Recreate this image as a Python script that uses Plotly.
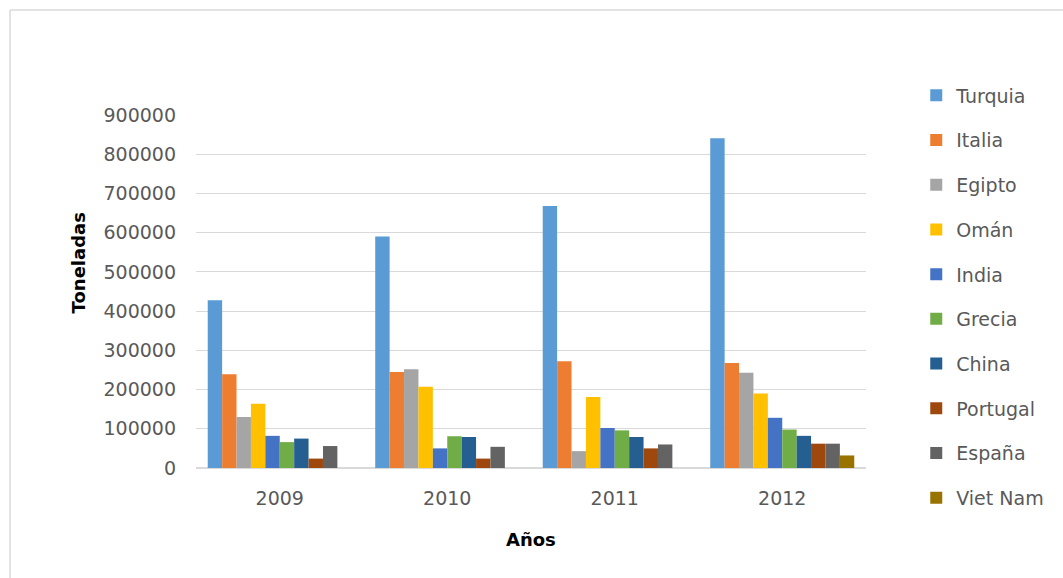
import plotly.graph_objects as go

years = ["2009", "2010", "2011", "2012"]
countries = ["Turquia", "Italia", "Egipto", "Omán", "India", "Grecia", "China", "Portugal", "España", "Viet Nam"]
turquia = [428000, 590000, 668000, 841000]
italia = [239000, 245000, 272000, 268000]
egipto = [130000, 252000, 43000, 243000]
oman = [164000, 207000, 181000, 190000]
india = [82000, 50000, 102000, 128000]
grecia = [66000, 81000, 96000, 98000]
china = [75000, 79000, 79000, 82000]
portugal = [24000, 24000, 50000, 62000]
espana = [56000, 54000, 60000, 62000]
vietnam = [None, None, None, 32000]
colors = ["#5B9BD5", "#ED7D31", "#A5A5A5", "#FFC000", "#4472C4",
          "#70AD47", "#255E91", "#9E480E", "#636363", "#997300"]
series = [turquia, italia, egipto, oman, india, grecia, china, portugal, espana, vietnam]
y_ticks = [0, 100000, 200000, 300000, 400000, 500000, 600000, 700000, 800000, 900000]

FONT = "DejaVu Sans"
GREY = "#595959"

fig = go.Figure()
for name, vals, col in zip(countries, series, colors):
    fig.add_trace(go.Bar(x=years, y=vals, name=name, marker=dict(color=col, line=dict(width=0)),
                         legendgroup=name))

fig.update_layout(
    width=1063, height=578,
    margin=dict(l=196, r=197, t=115, b=110),
    paper_bgcolor="white", plot_bgcolor="white",
    barmode="group", bargap=0.14, bargroupgap=0,
    font=dict(family=FONT, color=GREY, size=19),
    showlegend=True,
    legend=dict(x=1.075, y=1.109, xanchor="left", yanchor="top", maxheight=560,
                font=dict(family=FONT, size=19, color=GREY),
                tracegroupgap=17, traceorder="grouped", bgcolor="rgba(0,0,0,0)"),
    xaxis=dict(showgrid=False, showline=True, linecolor="#D9D9D9", linewidth=1,
               ticks="", ticklabelstandoff=13, tickfont=dict(size=19, color=GREY)),
    yaxis=dict(range=[0, 900000], tickvals=y_ticks, tickformat="d",
               showgrid=True, gridcolor="#D9D9D9", gridwidth=1,
               zeroline=True, zerolinecolor="#D9D9D9", showline=False,
               ticks="", ticklabelstandoff=19, tickfont=dict(size=19, color=GREY)),
    annotations=[
        dict(text="<b>Toneladas</b>", x=-0.194, y=0.581, xref="paper", yref="paper",
             textangle=-90, showarrow=False, font=dict(family=FONT, size=18, color="#000000")),
        dict(text="<b>Años</b>", x=0.5, y=-0.238, xref="paper", yref="paper",
             showarrow=False, font=dict(family=FONT, size=18, color="#000000")),
    ],
    shapes=[
        dict(type="line", xref="paper", yref="paper", x0=-0.2776, x1=1.3, y0=1.2975, y1=1.2975,
             line=dict(color="#D9D9D9", width=1.5)),
        dict(type="line", xref="paper", yref="paper", x0=-0.2776, x1=-0.2776, y0=-0.32, y1=1.2975,
             line=dict(color="#D9D9D9", width=1.5)),
    ],
)

fig.write_html("out.html", config={"displayModeBar": False},
               post_script="document.body.style.margin='0';document.body.style.overflow='hidden';")
